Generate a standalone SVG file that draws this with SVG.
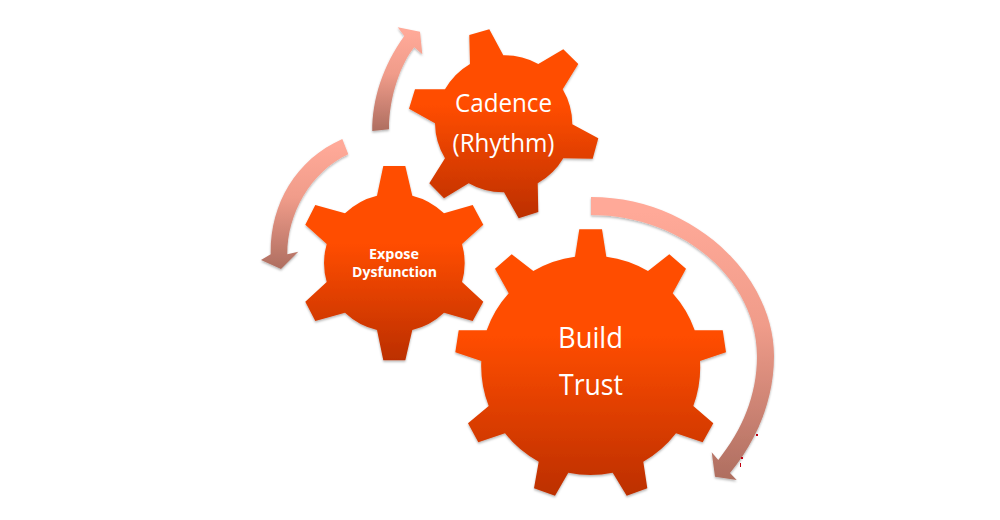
<svg xmlns="http://www.w3.org/2000/svg" width="1000" height="520" viewBox="0 0 1000 520">
<defs>
<linearGradient id="gearFill" x1="0" y1="0" x2="0" y2="1"><stop offset="0.4" stop-color="#ff4d00"/><stop offset="1" stop-color="#bc2f00"/></linearGradient>
<linearGradient id="arrowFill" x1="0" y1="0" x2="0" y2="1"><stop offset="0.05" stop-color="#ffa998"/><stop offset="0.45" stop-color="#f09c8a"/><stop offset="1" stop-color="#ae6e60"/></linearGradient>
<filter id="shadow" x="-10%" y="-10%" width="120%" height="120%"><feDropShadow dx="0" dy="1.5" stdDeviation="1.2" flood-color="#000" flood-opacity="0.3"/></filter>
</defs>
<style>
.gear{fill:url(#gearFill);filter:url(#shadow)}
.arrow{fill:url(#arrowFill);filter:url(#shadow)}
text{fill:#fff;text-anchor:middle;font-family:"Open Sans","Noto Sans","Liberation Sans",sans-serif}
.big{font-size:30px}
.mid{font-size:25.500px}
.small{font-size:14px;font-weight:700}
.speck{fill:#c00010}
</style>
<rect width="1000" height="520" fill="#fff"/>
<g id="connectors">
<path class="arrow" d="M591 197C692 197 774 275 774 356C774 400 757 440 730 473L736.700 480L715 476.700L711.700 452.300L718.300 460C742 430 757 396 757 356C757 280 683 215 591 215Z"/>
<path class="arrow" d="M372.300 131C372 100 383 65 404.300 36L397.700 27.300L420 31.700L422.300 54.300L414.300 47.300C402 62 389 95 389 129.300Z"/>
<path class="arrow" d="M342.300 139C295 160 270 205 270.700 254.300L261 260L281 269L298.300 251.700L287.300 254.300C287 215 310 172 348.300 154.300Z"/>
<rect class="speck" x="756" y="434" width="2" height="2"/>
<rect class="speck" x="741" y="457" width="2" height="2"/>
<rect class="speck" x="740" y="463" width="1" height="4"/>
</g>
<g id="gear-cadence">
<path class="gear" d="M469.300 35L489.300 29.300L503.300 55.300A69 69 0 0 1 538.300 64L563.300 49.300L578.300 64L562.700 89.300A69 69 0 0 1 572.300 124.300L598.300 138.300L592.700 158.700L563.300 158.300A69 69 0 0 1 537.700 183.300L538.300 212L518.700 218.300L504 192.300A69 69 0 0 1 468.700 183.300L444 198.300L429.300 183.300L445 158.300A69 69 0 0 1 435 123.300L409 108.700L415 89.300L445 89.300A69 69 0 0 1 470 64Z"/>
<text class="mid" x="503.500" y="112" textLength="97" lengthAdjust="spacingAndGlyphs">Cadence</text>
<text class="mid" x="503.500" y="152" textLength="102" lengthAdjust="spacingAndGlyphs">(Rhythm)</text>
</g>
<g id="gear-expose">
<path class="gear" d="M383.300 166L405.300 166L412.300 195.700A70 70 0 0 1 444 213.300L472.700 205L483.300 224.700L462 244A70 70 0 0 1 462 282L483.300 301.700L472.700 321L444 312.700A70 70 0 0 1 412.300 330L405.300 360.300L383.300 360.300L377 330A70 70 0 0 1 345 312.700L315.300 321L305.300 301.700L326.700 282A70 70 0 0 1 326.700 244L305.300 224.700L315.300 205L345 213.300A70 70 0 0 1 377 195.700Z"/>
<text class="small" x="394" y="259" textLength="50" lengthAdjust="spacingAndGlyphs">Expose</text>
<text class="small" x="394.500" y="277" textLength="85" lengthAdjust="spacingAndGlyphs">Dysfunction</text>
</g>
<g id="gear-build">
<path class="gear" d="M579.300 229.300L602 229.300L606.300 256.700A110 110 0 0 1 648 271L669.300 254.300L686 268.700L672.700 293.300A110 110 0 0 1 694.700 330.300L722.700 330.300L726 352.300L700 361A110 110 0 0 1 693.300 406L713.300 423.300L702.700 442.300L676 433.300A110 110 0 0 1 643.300 461.700L647.300 488.300L626.700 495.700L612.700 472.700A110 110 0 0 1 568.300 472.700L555 495.700L534 488.300L538.700 461.700A110 110 0 0 1 505 433.300L478.300 442.300L468 423.300L488.700 406A110 110 0 0 1 481.300 361L455.300 352.300L458.700 330.300L486.700 330.300A110 110 0 0 1 508.700 293.300L495 268.700L511.700 254.300L533.300 271A110 110 0 0 1 575 256.700Z"/>
<text class="big" x="590.500" y="348" textLength="65" lengthAdjust="spacingAndGlyphs">Build</text>
<text class="big" x="591" y="395" textLength="64" lengthAdjust="spacingAndGlyphs">Trust</text>
</g>
</svg>
